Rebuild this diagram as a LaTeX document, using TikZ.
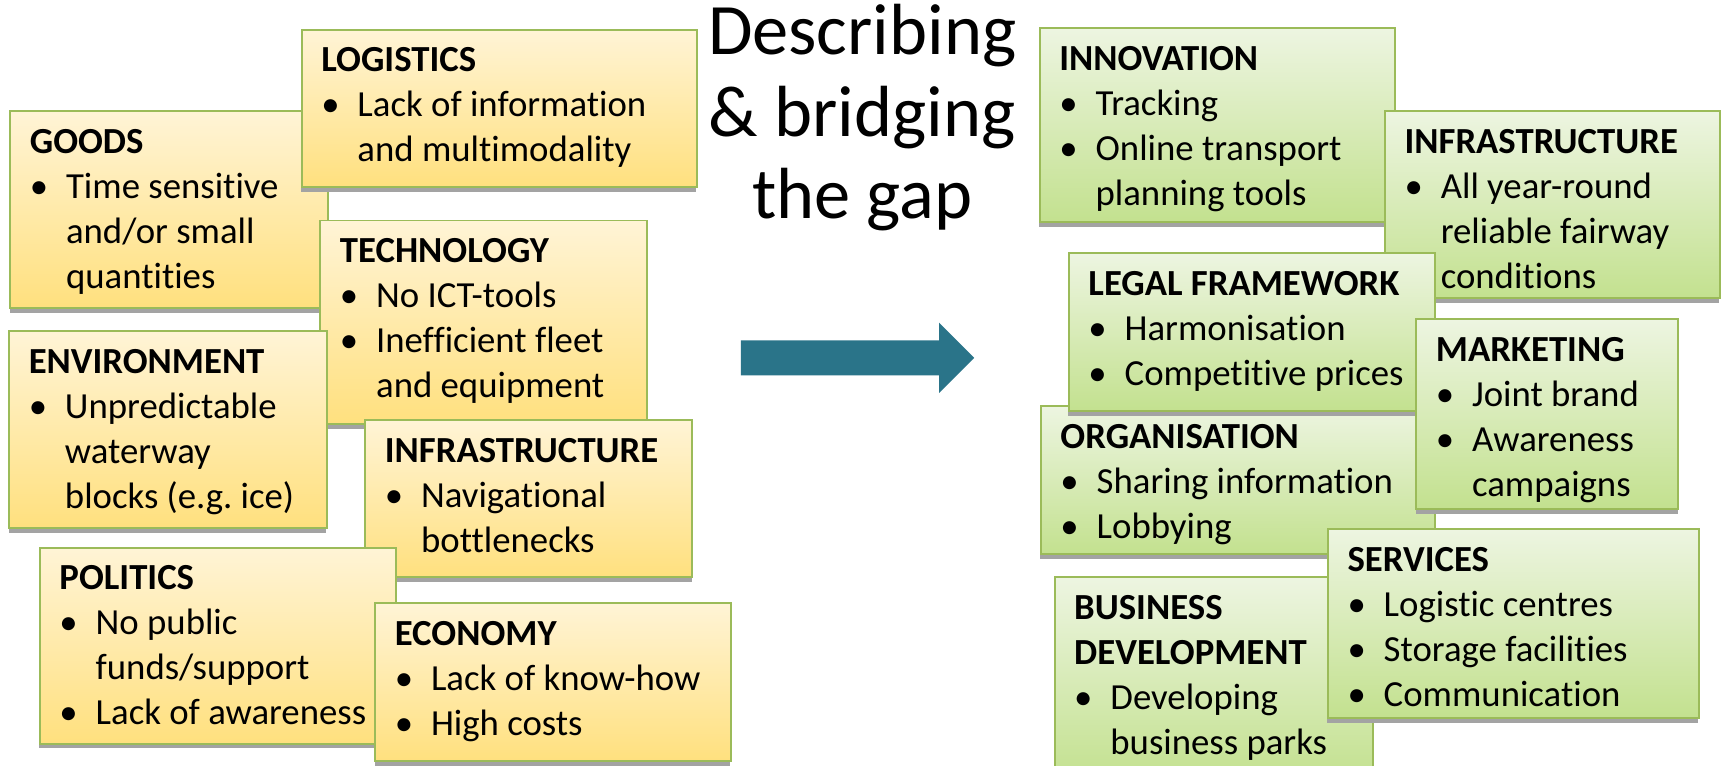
\documentclass[tikz,border=0pt]{standalone}
\usepackage{fontspec}
\setmainfont{Carlito}[Ligatures=NoCommon]
\frenchspacing
\usetikzlibrary{calc,shadows}
\definecolor{bordergreen}{HTML}{9BBB59}
\definecolor{ytop}{HTML}{FFF4D6}
\definecolor{ybot}{HTML}{FFE07E}
\definecolor{gtop}{HTML}{EDF5E1}
\definecolor{gbot}{HTML}{C3E18F}
\definecolor{shadowgray}{HTML}{A3A3A3}
\definecolor{arrowteal}{HTML}{2A7489}
\newcommand{\bul}{\makebox[33pt][l]{\hspace{0pt}•}}
\newcommand{\ind}{\hspace*{33pt}}
\tikzset{
  boxbase/.style={draw=bordergreen, line width=1.8pt, inner sep=0pt, anchor=north west,
    drop shadow={shadow xshift=-0.5pt, shadow yshift=-4.5pt, fill=shadowgray, opacity=1}},
  ybox/.style={boxbase, top color=ytop, bottom color=ybot},
  gbox/.style={boxbase, top color=gtop, bottom color=gbot},
  boxtext/.style={anchor=base west, inner sep=0pt, font=\fontsize{33.5}{41}\selectfont},
}
\newcommand{\abox}[6]{% style, name, l, t, r, b
  \node[#1, minimum width={(#5-#3)*1pt}, minimum height={(#6-#4)*1pt}] (#2) at (#3,#4) {};}
\newcommand{\atext}[2]{% name, content
  \node[boxtext] (#1T) at ($(#1.north west)+(18.5,39.5)$) {\begin{tabular}[t]{@{}l@{}}#2\end{tabular}};}
\begin{document}
\begin{tikzpicture}[x=1pt,y=-1pt]
\clip (0,0) rectangle (1568,697);
\fill[white] (0,0) rectangle (1568,697);

% ---------- left (yellow) ----------
\abox{ybox}{goods}{8.5}{100}{298}{279.5}
\atext{goods}{\textbf{GOODS}\\ \bul Time sensitive\\ \ind and/or small\\ \ind quantities}

\abox{ybox}{logistics}{274}{26}{634}{169.5}
\atext{logistics}{\textbf{LOGISTICS}\\ \bul Lack of information\\ \ind and multimodality}

\abox{ybox}{technology}{291}{200}{589}{385.5}
\atext{technology}{\textbf{TECHNOLOGY}\\ \bul No ICT-tools\\ \bul Inefficient fleet\\ \ind and equipment}

\abox{ybox}{environment}{7.5}{301}{297}{480}
\atext{environment}{\textbf{ENVIRONMENT}\\ \bul Unpredictable\\ \ind waterway\\ \ind blocks (e.g. ice)}

\abox{ybox}{infraL}{332}{382}{630}{525}
\atext{infraL}{\textbf{INFRASTRUCTURE}\\ \bul Navigational\\ \ind bottlenecks}

\abox{ybox}{politics}{35.5}{498}{360}{676.5}
\atext{politics}{\textbf{POLITICS}\\ \bul No public\\ \ind funds/support\\ \bul Lack of awareness}

\abox{ybox}{economy}{341}{548.5}{665}{692.5}
\atext{economy}{\textbf{ECONOMY}\\ \bul Lack of know-how\\ \bul High costs}

% ---------- title and arrow ----------
\node[anchor=base, inner sep=0pt, font=\fontsize{66}{74.5}\selectfont] (title) at (785.5,50)
  {\begin{tabular}[t]{@{}c@{}}Describing\\ \& bridging\\ the gap\end{tabular}};
\fill[arrowteal] (675,310) -- (855.6,310) -- (855.6,294) -- (887.6,326) -- (855.6,358)
  -- (855.6,342) -- (675,342) -- cycle;

% ---------- right (green) ----------
\abox{gbox}{innovation}{946.5}{25}{1270}{201}
\atext{innovation}{\textbf{INNOVATION}\\ \bul Tracking\\ \bul Online transport\\ \ind planning tools}

\abox{gbox}{infraR}{1261}{100}{1566}{271}
\atext{infraR}{\textbf{INFRASTRUCTURE}\\ \bul All year-round\\ \ind reliable fairway\\ \ind conditions}

\abox{gbox}{organisation}{947.5}{369}{1306.5}{503.5}
\atext{organisation}{\textbf{ORGANISATION}\\ \bul Sharing information\\ \bul Lobbying}

\abox{gbox}{legal}{973}{230}{1306.5}{373.5}
\atext{legal}{\textbf{LEGAL FRAMEWORK}\\ \bul Harmonisation\\ \bul Competitive prices}

\abox{gbox}{marketing}{1289.5}{290}{1528}{462.5}
\atext{marketing}{\textbf{MARKETING}\\ \bul Joint brand\\ \bul Awareness\\ \ind campaigns}

\abox{gbox}{business}{960}{525}{1250}{710}
\atext{business}{\textbf{BUSINESS}\\ \textbf{DEVELOPMENT}\\ \bul Developing\\ \ind business parks}

\abox{gbox}{services}{1209}{481}{1547}{653}
\atext{services}{\textbf{SERVICES}\\ \bul Logistic centres\\ \bul Storage facilities\\ \bul Communication}
\end{tikzpicture}
\end{document}
